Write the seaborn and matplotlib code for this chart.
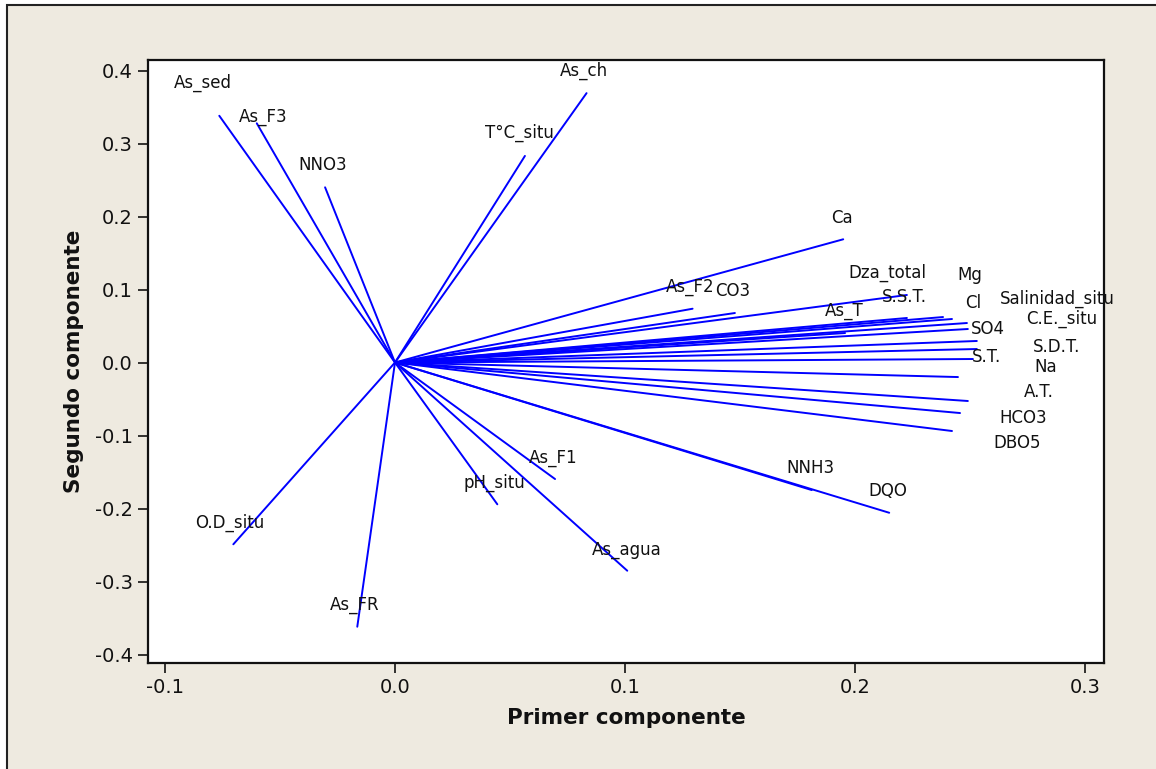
import numpy as np
import pandas as pd
import seaborn as sns
import matplotlib
matplotlib.use("Agg")
import matplotlib.pyplot as plt
from matplotlib.patches import Rectangle

# ---- data: loadings (first, second component) ----
variables = ["As_sed", "As_F3", "NNO3", "T°C_situ", "As_ch", "Ca", "As_F2", "CO3",
             "Dza_total", "S.S.T.", "Mg", "Cl", "Salinidad_situ", "As_T", "C.E._situ",
             "SO4", "S.D.T.", "S.T.", "Na", "A.T.", "HCO3", "DBO5",
             "NNH3", "DQO", "As_F1", "pH_situ", "As_agua", "As_FR", "O.D_situ"]
pc1 = [-0.0764, -0.0601, -0.0304, 0.0565, 0.0833, 0.1949, 0.1294, 0.1478,
       0.2226, 0.2226, 0.2383, 0.2422, 0.2487, 0.1957, 0.2491,
       0.2530, 0.2530, 0.2513, 0.2448, 0.2491, 0.2457, 0.2422,
       0.1812, 0.2149, 0.0696, 0.0445, 0.1010, -0.0164, -0.0703]
pc2 = [0.338, 0.3277, 0.240, 0.283, 0.369, 0.1688, 0.0737, 0.0678,
       0.0925, 0.061, 0.0623, 0.0596, 0.0541, 0.0404, 0.0459,
       0.0295, 0.0185, 0.0048, -0.0199, -0.0527, -0.0692, -0.0938,
       -0.1747, -0.2058, -0.1596, -0.1942, -0.2852, -0.3619, -0.2490]

x_ticks = [-0.1, 0.0, 0.1, 0.2, 0.3]
y_ticks = [-0.4, -0.3, -0.2, -0.1, 0.0, 0.1, 0.2, 0.3, 0.4]
x_label = "Primer componente"
y_label = "Segundo componente"

# ---- layout: label offsets in pixels relative to vector end ----
label_offsets = {
    "As_sed": (-16, 33), "As_F3": (6, 6), "NNO3": (-2, 22), "T°C_situ": (-5, 23),
    "As_ch": (-3, 22), "Ca": (-1, 21), "As_F2": (-2, 22), "CO3": (-2, 22),
    "Dza_total": (-20, 22), "S.S.T.": (-3, 21), "Mg": (27, 42), "Cl": (21, 16),
    "Salinidad_situ": (90, 24), "As_T": (-1, 22), "C.E._situ": (94, 10),
    "SO4": (11, 12), "S.D.T.": (80, 2), "S.T.": (14, 2), "Na": (88, 10),
    "A.T.": (71, 9), "HCO3": (63, -5), "DBO5": (65, -12),
    "NNH3": (-1, 22), "DQO": (-1, 22), "As_F1": (-2, 21), "pH_situ": (-3, 21),
    "As_agua": (-1, 21), "As_FR": (-3, 22), "O.D_situ": (-4, 21),
}

rows = []
for v, a, b in zip(variables, pc1, pc2):
    rows.append({"var": v, "x": 0.0, "y": 0.0, "ord": 0})
    rows.append({"var": v, "x": a, "y": b, "ord": 1})
df = pd.DataFrame(rows)

sns.set_style("white")
plt.rcParams["font.family"] = ["DejaVu Sans"]

bg = "#EEEAE0"
fig = plt.figure(figsize=(11.56, 7.69), dpi=100, facecolor="white")
fig.patches.append(Rectangle((7 / 1156, -0.05), 1.2, 1 - 5 / 769 + 0.05,
                             transform=fig.transFigure, facecolor=bg,
                             edgecolor="#222222", linewidth=1.5, zorder=-10))
ax = fig.add_axes([148 / 1156, 1 - 663 / 769, 956 / 1156, 603 / 769])
ax.set_facecolor("white")

sns.lineplot(data=df, x="x", y="y", units="var", estimator=None, sort=False,
             color="#0000FF", linewidth=1.4, ax=ax, legend=False)

for v, a, b in zip(variables, pc1, pc2):
    dx, dy = label_offsets.get(v, (0, 22))
    ax.annotate(v, (a, b), xytext=(dx, dy), textcoords="offset pixels",
                ha="center", va="center", fontsize=12, color="#111111")

ax.set_xlim(-0.1074, 0.3083)
ax.set_ylim(-0.4116, 0.4144)
ax.set_xticks(x_ticks)
ax.set_xticklabels([f"{t:.1f}" for t in x_ticks])
ax.set_yticks(y_ticks)
ax.set_yticklabels([f"{t:.1f}" for t in y_ticks])
ax.tick_params(axis="both", direction="out", length=7, width=1.2, labelsize=14,
               colors="#111111", bottom=True, left=True, top=False, right=False, pad=4)
for s in ax.spines.values():
    s.set_color("#111111")
    s.set_linewidth(1.6)
ax.set_xlabel(x_label, fontsize=15.5, fontweight="bold", labelpad=8, color="#111111")
ax.set_ylabel(y_label, fontsize=15.5, fontweight="bold", labelpad=8, color="#111111")

fig.savefig("out.png", dpi=100, facecolor=fig.get_facecolor())
